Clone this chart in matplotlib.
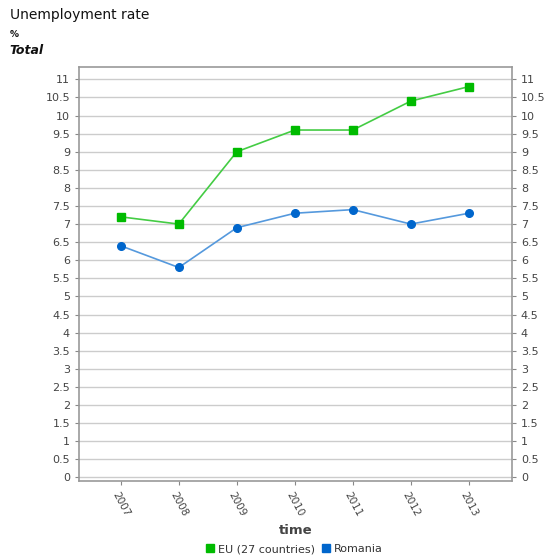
import matplotlib
matplotlib.use("Agg")
import matplotlib.pyplot as plt
import numpy as np
from matplotlib.lines import Line2D

years = ["2007", "2008", "2009", "2010", "2011", "2012", "2013"]
eu27 = [7.2, 7.0, 9.0, 9.6, 9.6, 10.4, 10.8]
romania = [6.4, 5.8, 6.9, 7.3, 7.4, 7.0, 7.3]
yticks = np.arange(0, 11.01, 0.5)

fig = plt.figure(figsize=(5.45, 5.56), dpi=100)
ax = fig.add_axes([0.145, 0.135, 0.794, 0.745])

x = np.arange(len(years))
ax.plot(x, eu27, color="#44cc44", lw=1.2, marker="s", ms=5.5,
        mfc="#00bb00", mec="#00bb00", zorder=3)
ax.plot(x, romania, color="#5599dd", lw=1.2, marker="o", ms=5.5,
        mfc="#0066cc", mec="#0066cc", zorder=3)

ax.set_xlim(-0.72, 6.74)
ax.set_ylim(-0.1, 11.35)
ax.set_yticks(yticks)
ax.set_yticklabels([f"{v:g}" for v in yticks])
ax.set_xticks(x)
ax.set_xticklabels(years, rotation=-62, ha="center", va="top")
ax.tick_params(axis="both", colors="#888888", labelcolor="#444444",
               labelsize=8, length=3)
ax.tick_params(axis="x", pad=4, labelsize=7.5)
ax.tick_params(axis="y", right=True, labelright=True)
ax.grid(axis="y", color="#cccccc", lw=1)
ax.set_axisbelow(True)
for s in ax.spines.values():
    s.set_color("#999999")
    s.set_linewidth(1.2)

ax.set_xlabel("time", fontsize=9.5, fontweight="bold", color="#444444",
              labelpad=4)

fig.text(0.018, 0.965, "Unemployment rate", fontsize=10, color="#111111")
fig.text(0.018, 0.934, "%", fontsize=6.5, fontweight="bold", color="#111111")
fig.text(0.018, 0.903, "Total", fontsize=9, fontweight="bold",
         fontstyle="italic", color="#111111")

handles = [Line2D([], [], ls="none", marker="s", ms=6, color="#00bb00"),
           Line2D([], [], ls="none", marker="s", ms=6, color="#0066cc")]
fig.legend(handles, ["EU (27 countries)", "Romania"], loc="center",
           bbox_to_anchor=(0.54, 0.012), ncol=2, frameon=False,
           fontsize=8, handlelength=0.8, handletextpad=0.3,
           columnspacing=0.6, labelcolor="#333333")

fig.savefig("out.png", dpi=100)
